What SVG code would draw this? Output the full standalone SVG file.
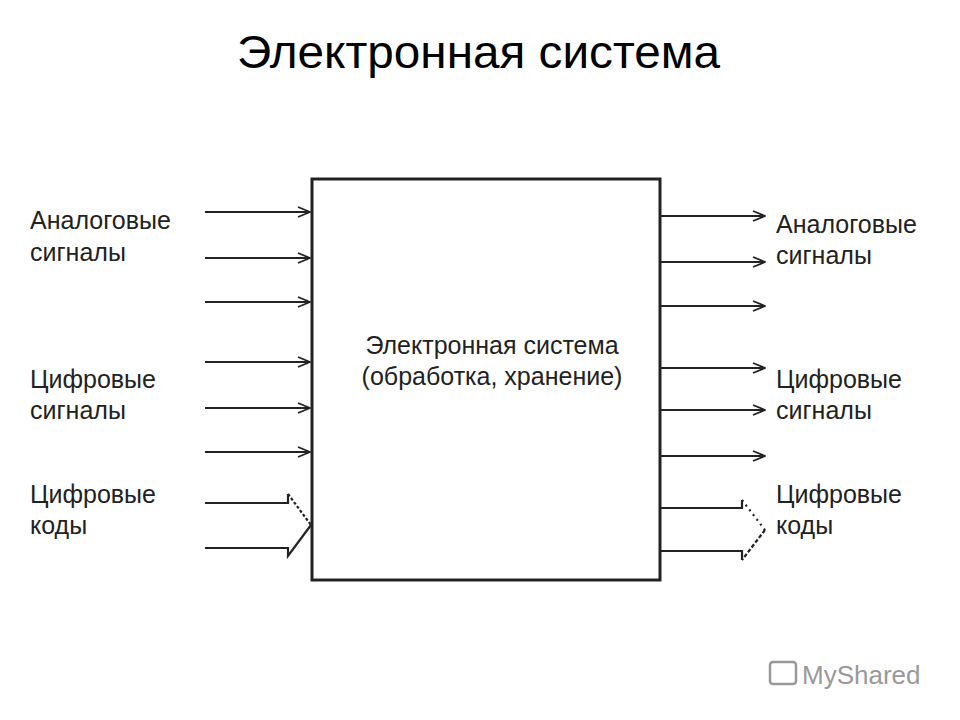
<svg xmlns="http://www.w3.org/2000/svg" width="960" height="720" viewBox="0 0 960 720">
<defs>
<marker id="ah" viewBox="0 0 14 12" refX="13" refY="6" markerWidth="14" markerHeight="12" markerUnits="userSpaceOnUse" orient="auto">
<path d="M1,1 L13,6 L1,11" fill="none" stroke="#222" stroke-width="1.8"/>
</marker>
</defs>
<style>
text{font-family:"Liberation Sans",Arial,sans-serif;fill:#222}
.l{font-size:25px}
.c{stroke:#222;stroke-width:2.2;fill:none}
</style>
<rect width="960" height="720" fill="#fff"/>
<text x="237" y="68" textLength="483" lengthAdjust="spacingAndGlyphs" style="font-size:46px;fill:#000">Электронная система</text>
<g id="system"><rect x="312" y="179" width="348" height="401" fill="#fff" stroke="#222" stroke-width="3"/>
<text x="492" y="354" text-anchor="middle" class="l">Электронная система</text>
<text x="492" y="385" text-anchor="middle" class="l">(обработка, хранение)</text></g>
<g id="labels-left">
<text x="30" y="229" class="l">Аналоговые</text><text x="30" y="261" class="l">сигналы</text>
<text x="30" y="388" class="l">Цифровые</text><text x="30" y="419" class="l">сигналы</text>
<text x="30" y="503" class="l">Цифровые</text><text x="30" y="534" class="l">коды</text></g>
<g id="labels-right">
<text x="776" y="233" class="l">Аналоговые</text><text x="776" y="264" class="l">сигналы</text>
<text x="776" y="388" class="l">Цифровые</text><text x="776" y="419" class="l">сигналы</text>
<text x="776" y="503" class="l">Цифровые</text><text x="776" y="534" class="l">коды</text></g>
<g id="connectors">
<path class="c" marker-end="url(#ah)" d="M205,212H310"/>
<path class="c" marker-end="url(#ah)" d="M205,258H310"/>
<path class="c" marker-end="url(#ah)" d="M205,302H310"/>
<path class="c" marker-end="url(#ah)" d="M205,362H310"/>
<path class="c" marker-end="url(#ah)" d="M205,408H310"/>
<path class="c" marker-end="url(#ah)" d="M205,452H310"/>
<path class="c" marker-end="url(#ah)" d="M660,216H765"/>
<path class="c" marker-end="url(#ah)" d="M660,262H765"/>
<path class="c" marker-end="url(#ah)" d="M660,306H765"/>
<path class="c" marker-end="url(#ah)" d="M660,368H765"/>
<path class="c" marker-end="url(#ah)" d="M660,410H765"/>
<path class="c" marker-end="url(#ah)" d="M660,456H765"/>
<path class="c" d="M205,503H288V494"/>
<path class="c" stroke-dasharray="3,2" d="M288,494L311,525"/>
<path class="c" d="M311,525L288,556V548H205"/>
<path class="c" d="M660,508H742V500"/>
<path class="c" stroke-dasharray="2,4" d="M742,500L765,530"/>
<path class="c" stroke-dasharray="4,2" d="M765,530L742,560"/>
<path class="c" d="M742,560V551H660"/>
</g>
<g id="watermark">
<rect x="770" y="662" width="26" height="22" rx="3" fill="none" stroke="#999" stroke-width="2.5"/>
<text x="802" y="684" style="font-size:26px;fill:#999">MyShared</text></g>
</svg>
